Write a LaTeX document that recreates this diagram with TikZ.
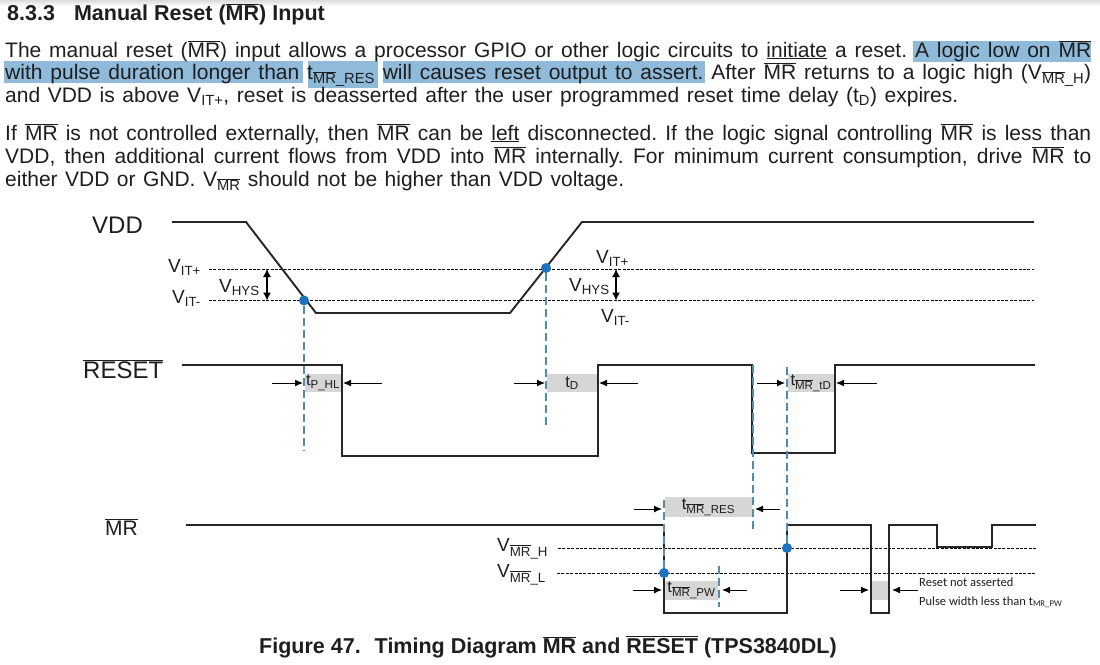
\documentclass[tikz,border=0pt]{standalone}
\usepackage{fontspec}
\setmainfont{Liberation Sans}
\newfontfamily\notefont{Carlito}
\usetikzlibrary{arrows.meta}
\definecolor{hilite}{RGB}{143,186,217}
\definecolor{boxgrey}{RGB}{214,214,214}
\definecolor{markblue}{RGB}{28,114,190}
\definecolor{guideblue}{RGB}{84,140,176}
\definecolor{inktext}{RGB}{30,30,30}
\frenchspacing
\newcommand{\ovl}[1]{$\overline{\hbox{#1}}$}
\newcommand{\sbs}[1]{\textsubscript{#1}}
\newcommand{\lw}[2]{\makebox[#1pt][s]{#2}}
\tikzset{
  wave/.style={line width=2.4pt,black!85,line join=miter},
  thr/.style={densely dashed,line width=0.9pt,dash pattern=on 3pt off 1.4pt},
  guide/.style={guideblue,line width=1.2pt,dash pattern=on 8pt off 4pt},
  dot/.style={circle,fill=markblue,inner sep=0pt,minimum size=10pt},
  gbox/.style={fill=boxgrey,inner sep=0pt,font=\fontsize{16.5}{16.5}\selectfont,text=inktext},
  sig/.style={font=\fontsize{24}{24}\selectfont,text=inktext,inner sep=0pt,anchor=base west},
  vlab/.style={font=\fontsize{19}{19}\selectfont,text=inktext,inner sep=0pt,anchor=base west},
  body/.style={font=\fontsize{21}{21}\selectfont,text=inktext,inner sep=0pt,anchor=base west},
  note/.style={font=\notefont\fontsize{12.5}{12.5}\selectfont,text=inktext,inner sep=0pt,anchor=base west},
  tim/.style={line width=1pt,-{Latex[length=8pt,width=7pt]}},
  hys/.style={line width=1.2pt,{Latex[length=8pt,width=8pt]}-{Latex[length=8pt,width=8pt]}}
}
\begin{document}
\begin{tikzpicture}[x=1pt,y=-1pt]
\useasboundingbox (0,0) rectangle (1100,664);
\shade[top color=black!14,bottom color=white] (0,0) rectangle (1100,6);
\fill[hilite] (913,41) rectangle (1091,62);
\fill[hilite] (4,61) rectangle (303,83);
\fill[hilite] (308,61) rectangle (378,88);
\fill[hilite] (383,61) rectangle (705,83);
\node[body,font=\bfseries\fontsize{21.5}{21.5}\selectfont] (title) at (7,20) {8.3.3\hspace{19pt}Manual Reset (\ovl{MR}) Input};
\node[body] (p1a) at (5,57) {\lw{1086}{The manual reset (\ovl{MR}) input allows a processor GPIO or other logic circuits to \underline{initiate} a reset. A logic low on \ovl{MR}}};
\node[body] (p1b) at (5,79) {\lw{1086}{with pulse duration longer than t\sbs{\ovl{MR}\_RES} will causes reset output to assert. After \ovl{MR} returns to a logic high (V\sbs{\ovl{MR}\_H})}};
\node[body] (p1c) at (5,102) {\lw{953}{and VDD is above V\sbs{IT+}, reset is deasserted after the user programmed reset time delay (t\sbs{D}) expires.}};
\node[body] (p2a) at (5,140) {\lw{1086}{If \ovl{MR} is not controlled externally, then \ovl{MR} can be \underline{left} disconnected. If the logic signal controlling \ovl{MR} is less than}};
\node[body] (p2b) at (5,163) {\lw{1086}{VDD, then additional current flows from VDD into \ovl{MR} internally. For minimum current consumption, drive \ovl{MR} to}};
\node[body] (p2c) at (5,186) {\lw{619}{either VDD or GND. V\sbs{\ovl{MR}} should not be higher than VDD voltage.}};
\node[gbox,minimum width=36pt,minimum height=18pt] (PHL) at (323,383) {t\sbs{P\_HL}};
\node[gbox,minimum width=50pt,minimum height=18pt] (TD) at (572,383) {t\sbs{D}};
\node[gbox,minimum width=46pt,minimum height=18pt] (MRTD) at (811,383) {t\sbs{\ovl{MR}\_tD}};
\node[gbox,minimum width=87pt,minimum height=20pt] (MRRES) at (708.5,507) {t\sbs{\ovl{MR}\_RES}};
\node[gbox,minimum width=53pt,minimum height=19pt] (MRPW) at (691.5,590.5) {t\sbs{\ovl{MR}\_PW}};
\node[gbox,minimum width=16pt,minimum height=19pt] (PULSE) at (880,590.5) {};
\node[sig] (VDD) at (92,233) {VDD};
\node[sig] (RESET) at (83,378) {\ovl{RESET}};
\node[sig,font=\fontsize{21}{21}\selectfont] (MR) at (105,535) {\ovl{MR}};
\node[vlab] (ITPa) at (168,272) {V\sbs{IT+}};
\node[vlab] (ITMa) at (172,303) {V\sbs{IT-}};
\node[vlab] (HYSa) at (219,292) {V\sbs{HYS}};
\node[vlab] (ITPb) at (596,263) {V\sbs{IT+}};
\node[vlab] (HYSb) at (569,291) {V\sbs{HYS}};
\node[vlab] (ITMb) at (601,322) {V\sbs{IT-}};
\node[vlab] (MRH) at (497,551) {V\sbs{\ovl{MR}\_H}};
\node[vlab] (MRL) at (497,577) {V\sbs{\ovl{MR}\_L}};
\node[note] (NA) at (919,586) {Reset not asserted};
\node[note] (NB) at (919,605) {Pulse width less than t\sbs{MR\_PW}};
\node[body,font=\bfseries\fontsize{21.5}{21.5}\selectfont] (CAP) at (259,653) {Figure 47.\hspace{14pt}Timing Diagram \ovl{MR} and \ovl{RESET} (TPS3840DL)};
\coordinate (TPl) at (209,269);
\coordinate (TPr) at (1034,269);
\coordinate (TMl) at (209,300.5);
\coordinate (TMr) at (1034,300.5);
\coordinate (MHl) at (558,548);
\coordinate (MHr) at (1036,548);
\coordinate (MLl) at (557,573);
\coordinate (MLr) at (1035,573);
\draw[thr] (TPl) -- (TPr);
\draw[thr] (TMl) -- (TMr);
\draw[thr] (MHl) -- (MHr);
\draw[thr] (MLl) -- (MLr);
\coordinate (V0) at (172,222);
\coordinate (V1) at (246,222);
\coordinate (V2) at (316,313);
\coordinate (V3) at (510,313);
\coordinate (V4) at (582,222);
\coordinate (V5) at (1034,222);
\draw[wave,line width=1.9pt] (V0) -- (V1) -- (V2) -- (V3) -- (V4) -- (V5);
\coordinate (R0) at (182,365);
\coordinate (R1) at (342,365);
\coordinate (R2) at (342,456);
\coordinate (R3) at (598,456);
\coordinate (R4) at (598,365);
\coordinate (R5) at (752,365);
\coordinate (R6) at (752,453);
\coordinate (R7) at (835,453);
\coordinate (R8) at (835,365);
\coordinate (R9) at (1035,365);
\draw[wave] (R0) -- (R1) -- (R2) -- (R3) -- (R4) -- (R5) -- (R6) -- (R7) -- (R8) -- (R9);
\coordinate (M0) at (186,525);
\coordinate (M1) at (664,525);
\coordinate (M2) at (664,613);
\coordinate (M3) at (787,613);
\coordinate (M4) at (787,525);
\coordinate (M5) at (871,525);
\coordinate (M6) at (871,613);
\coordinate (M7) at (889,613);
\coordinate (M8) at (889,525);
\coordinate (M9) at (937,525);
\coordinate (M10) at (937,547);
\coordinate (M11) at (992,547);
\coordinate (M12) at (992,525);
\coordinate (M13) at (1036,525);
\draw[wave] (M0) -- (M1) -- (M2) -- (M3) -- (M4) -- (M5) -- (M6) -- (M7) -- (M8) -- (M9) -- (M10) -- (M11) -- (M12) -- (M13);
\node[dot] (A) at (304,300.5) {};
\node[dot] (B) at (546,268) {};
\node[dot] (C) at (664,573) {};
\node[dot] (D) at (787,548) {};
\coordinate (Ag) at (304,450);
\coordinate (Bg) at (546,426);
\coordinate (Ct) at (664,497);
\coordinate (Et) at (753,365);
\coordinate (Eb) at (753,530);
\coordinate (Dt) at (787,365);
\coordinate (Ft) at (719,566);
\coordinate (Fb) at (719,607);
\draw[guide] (A) -- (Ag);
\draw[guide] (B) -- (Bg);
\draw[guide] (C) -- (Ct);
\draw[guide] (Et) -- (Eb);
\draw[guide] (D) -- (Dt);
\draw[guide] (Ft) -- (Fb);
\foreach \nm/\xa/\xb/\yy in {a1/272/303/383,a2/382/343/383,a3/514/545/383,a4/638/599/383,a5/757/785/383,a6/877/836/383,a7/634/662/509,a8/780/755/509,a9/633/662/590,a10/747/722/590,a11/840/869/590,a12/918/892/590} {
  \coordinate (\nm s) at (\xa,\yy);
  \coordinate (\nm e) at (\xb,\yy);
  \draw[tim] (\nm s) -- (\nm e);
}
\coordinate (Ha) at (267,269);
\coordinate (Hb) at (267,300.5);
\coordinate (Hc) at (616,269);
\coordinate (Hd) at (616,300.5);
\draw[hys] (Ha) -- (Hb);
\draw[hys] (Hc) -- (Hd);
\end{tikzpicture}
\end{document}
